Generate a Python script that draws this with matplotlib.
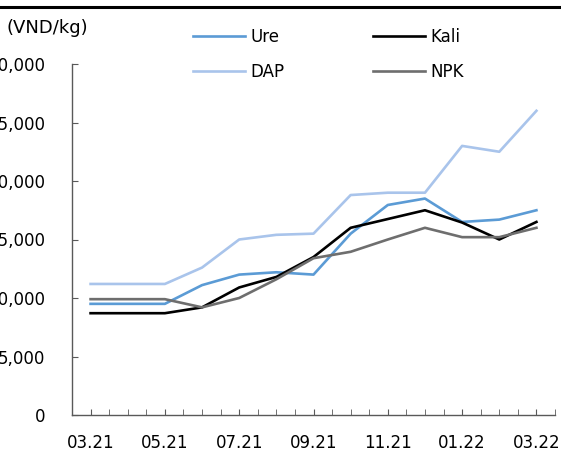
import matplotlib
matplotlib.use("Agg")
import matplotlib.pyplot as plt
from matplotlib.lines import Line2D
import numpy as np

months = ["03.21", "04.21", "05.21", "06.21", "07.21", "08.21", "09.21",
          "10.21", "11.21", "12.21", "01.22", "02.22", "03.22"]
ure = [9500, 9500, 9500, 11100, 12000, 12200, 12000, 15500, 17950, 18500, 16500, 16700, 17500]
kali = [8700, 8700, 8700, 9200, 10900, 11800, 13500, 16000, 16750, 17500, 16450, 15000, 16500]
dap = [11200, 11200, 11200, 12600, 15000, 15400, 15500, 18800, 19000, 19000, 23000, 22500, 26000]
npk = [9900, 9900, 9900, 9200, 10000, 11600, 13400, 13950, 15000, 16000, 15200, 15200, 16000]

plt.rcParams['font.family'] = ['DejaVu Sans']
fig = plt.figure(figsize=(5.61, 4.5), dpi=100)
ax = fig.add_axes([72/561, 35/450, 483/561, 351/450])

x = np.arange(len(months))
ax.plot(x, ure, color="#5B9BD5", lw=1.9, label="Ure")
ax.plot(x, dap, color="#A9C4EB", lw=1.9, label="DAP")
ax.plot(x, kali, color="black", lw=1.9, label="Kali")
ax.plot(x, npk, color="#6E6E6E", lw=1.9, label="NPK")

ax.set_xlim(-0.5, 12.5)
ax.set_ylim(0, 30000)
ax.set_xticks(x[::2])
ax.set_xticklabels(months[::2])
ax.set_xticks(np.arange(-0.5, 12.6, 0.5), minor=True)
ax.set_yticks(np.arange(0, 30001, 5000))
ax.set_yticklabels([f"{v:,}" for v in range(0, 30001, 5000)])

for s in ["top", "right"]:
    ax.spines[s].set_visible(False)
for s in ["left", "bottom"]:
    ax.spines[s].set_color("#595959")
    ax.spines[s].set_linewidth(1.0)

ax.tick_params(axis="y", direction="in", length=4, color="#595959", labelsize=12, pad=19)
ax.tick_params(axis="x", which="both", direction="in", length=4, color="#595959", labelsize=12, pad=14)

fig.text(7/561, 1 - 28/450, "(VND/kg)", fontsize=13, va="center", ha="left")
fig.add_artist(Line2D([0, 1], [1 - 7/450, 1 - 7/450], color="black", lw=2.2,
                      transform=fig.transFigure))

handles, labels = ax.get_legend_handles_labels()
fig.legend(handles, labels, ncol=2, loc="upper left", bbox_to_anchor=(193/561, 1 - 28/450),
           frameon=False, fontsize=12, handlelength=3.1, handletextpad=0.35,
           columnspacing=5.3, labelspacing=1.0, borderpad=0, borderaxespad=0)

fig.savefig("out.png", dpi=100)
